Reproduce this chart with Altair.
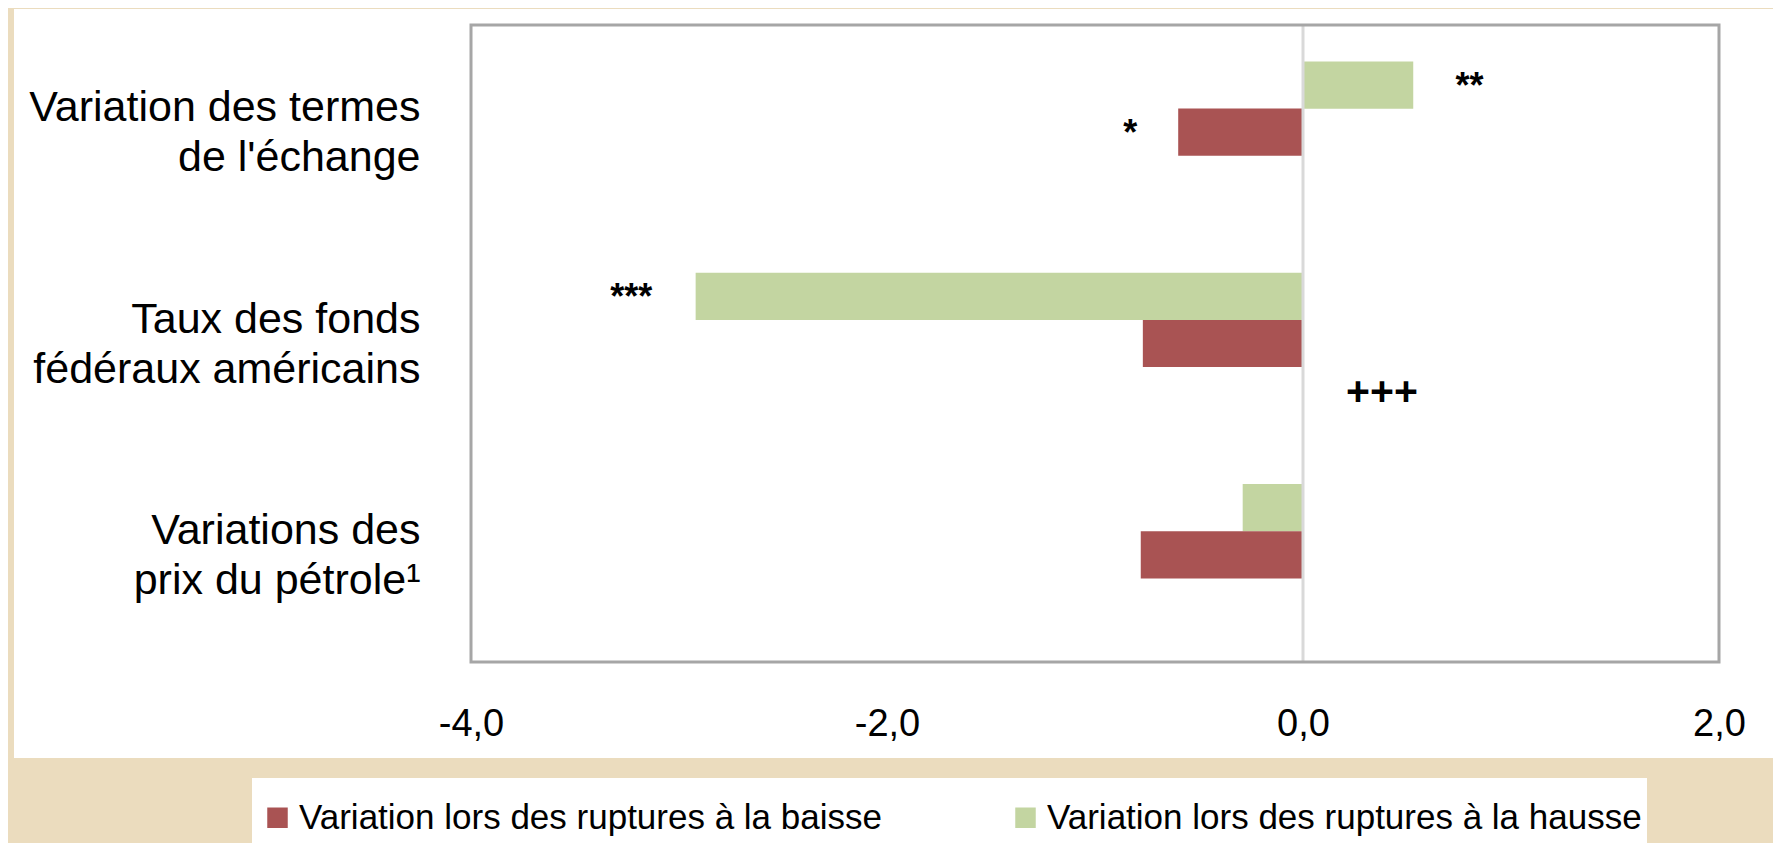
import altair as alt
import pandas as pd

# ---- data ----
categories = [
    "Variation des termes\nde l'échange",
    "Taux des fonds\nfédéraux américains",
    "Variations des\nprix du pétrole¹",
]
series_baisse = "Variation lors des ruptures à la baisse"
series_hausse = "Variation lors des ruptures à la hausse"
values_hausse = [0.53, -2.92, -0.29]
values_baisse = [-0.60, -0.77, -0.78]

annot_text = ["**", "*", "***", "+++"]
annot_category = [categories[0], categories[0], categories[1], categories[1]]
annot_series = [series_hausse, series_baisse, series_hausse, "blank"]
annot_x = [0.80, -0.83, -3.23, 0.38]

x_ticks = [-4, -2, 0, 2]

# ---- styles ----
RED = "#A95353"
GREEN = "#C3D5A1"
BEIGE = "#EBDCBE"
FONT = "Liberation Sans"

rows = []
for c, h, b in zip(categories, values_hausse, values_baisse):
    rows.append({"cat": c, "series": series_hausse, "value": h})
    rows.append({"cat": c, "series": series_baisse, "value": b})
bars_df = pd.DataFrame(rows)
annot_df = pd.DataFrame({"cat": annot_category, "series": annot_series,
                         "x": annot_x, "label": annot_text})

x_scale = alt.Scale(domain=[-4, 2], nice=False, zero=False)
y_scale = alt.Scale(domain=categories, paddingInner=0.33, paddingOuter=0.1725)
yoff_scale = alt.Scale(domain=[series_hausse, series_baisse, "blank"],
                       paddingInner=0, paddingOuter=0)

x_axis = alt.Axis(
    title=None, values=x_ticks,
    labelExpr="replace((datum.value < 0 ? '-' : '') + format(abs(datum.value), '.1f'), '.', ',')",
    labelFontSize=38, labelFont=FONT, labelColor="black", labelPadding=43,
    ticks=False, domain=False, grid=False, labelFlush=False, zindex=1,
)
y_axis = alt.Axis(
    title=None, labelExpr="split(datum.label, '\\n')",
    labelFontSize=43, labelLineHeight=50, labelFont=FONT, labelColor="black",
    labelPadding=51, labelLimit=1000, ticks=False, domain=False, grid=False,
    labelAlign="right", labelBaseline="middle", labelOffset=-24, zindex=1,
)

one = alt.Data(values=[{"k": 1}])

panel = alt.Chart(one).mark_rect(fill="white").encode(
    x=alt.value(-457), x2=alt.value(1302), y=alt.value(-16), y2=alt.value(733)
)
legend_box = alt.Chart(one).mark_rect(fill="white").encode(
    x=alt.value(-219), x2=alt.value(1176), y=alt.value(753), y2=alt.value(830)
)

bars = alt.Chart(bars_df).mark_bar(size=47.2).encode(
    x=alt.X("value:Q", scale=x_scale, axis=x_axis),
    y=alt.Y("cat:N", scale=y_scale, axis=y_axis, sort=None),
    yOffset=alt.YOffset("series:N", scale=yoff_scale),
    color=alt.Color(
        "series:N",
        scale=alt.Scale(domain=[series_baisse, series_hausse], range=[RED, GREEN]),
        legend=alt.Legend(
            title=None, orient="none", legendX=-211, legendY=775,
            direction="horizontal", columns=2, symbolType="square",
            symbolSize=420, symbolStrokeWidth=0, labelFontSize=35,
            labelFont=FONT, labelColor="black", labelOffset=4,
            columnPadding=126, labelLimit=1000,
        ),
    ),
)

zero_rule = alt.Chart(one).mark_rule(color="#D9D9D9", strokeWidth=3).encode(
    x=alt.datum(0, scale=x_scale)
)

annots = alt.Chart(annot_df).mark_text(
    font=FONT, fontSize=36, fontWeight="bold", color="black",
    align="center", baseline="middle", dy=2
).encode(
    x=alt.X("x:Q", scale=x_scale),
    y=alt.Y("cat:N", scale=y_scale, sort=None),
    yOffset=alt.YOffset("series:N", scale=yoff_scale),
    text="label:N",
    size=alt.condition("datum.label == '+++'", alt.value(41), alt.value(36)),
)

frame = alt.Chart(one).mark_rect(
    filled=False, stroke="#A6A6A6", strokeWidth=3
).encode(
    x=alt.value(0), x2=alt.value("width"), y=alt.value(0), y2=alt.value("height")
)

chart = alt.layer(panel, legend_box, bars, zero_rule, annots, frame).properties(
    width=1248, height=637,
    autosize=alt.AutoSizeParams(type="none"),
    padding={"left": 463, "top": 17, "right": 54, "bottom": 181},
    background=BEIGE,
).configure_view(stroke=None)

chart.save("out.html", embed_options={"renderer": "svg", "actions": False})
